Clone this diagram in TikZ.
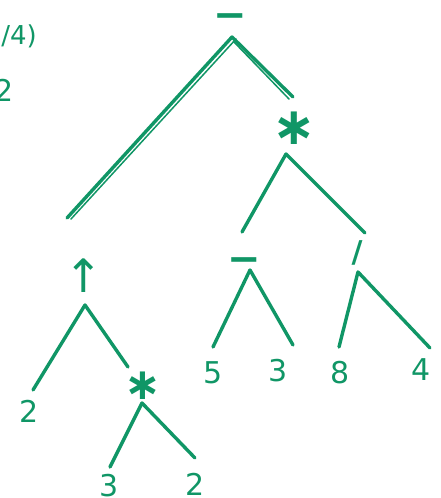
\documentclass[tikz,border=0pt]{standalone}
\usepackage{fontspec}
\setmainfont{DejaVu Sans}
\definecolor{ink}{RGB}{16,150,102}
\begin{document}
\begin{tikzpicture}[x=1pt,y=-1pt,
  edge/.style={draw=ink, line width=3.4pt, line cap=round, line join=round},
  thinedge/.style={draw=ink, line width=1.5pt, line cap=round},
  lab/.style={text=ink, inner sep=0pt, font=\fontsize{30}{30}\selectfont},
  oper/.style={text=ink, inner sep=0pt, font=\fontsize{40}{40}\selectfont\bfseries}]
\useasboundingbox (0,0) rectangle (440,498);
\clip (0,0) rectangle (440,498);
% top-left fragments
\node[lab, anchor=east, font=\fontsize{26}{30}\selectfont] (frac) at (37,36) {3/4)};
\node[lab, anchor=east] (two0) at (14,90) {2};
% operators
\node[oper] (root) at (230,21) {−};
\node[oper, font=\fontsize{52}{52}\selectfont\bfseries] (st1) at (294,128) {∗};
\node[oper] (mn2) at (244,265) {−};
\node[lab, font=\fontsize{30}{30}\selectfont\bfseries] (sl) at (357,253) {/};
\node[oper, font=\fontsize{46}{46}\selectfont] (up) at (84,276) {↑};
\node[oper, font=\fontsize{44}{44}\selectfont\bfseries] (st2) at (143,386) {∗};
% leaves
\node[lab] (l2a) at (29,411) {2};
\node[lab] (l3a) at (109,486) {3};
\node[lab] (l2b) at (195,484) {2};
\node[lab] (l5) at (213,373) {5};
\node[lab] (l3b) at (278,371) {3};
\node[lab] (l8) at (340,373) {8};
\node[lab] (l4) at (421,370) {4};
% branch points
\coordinate (ra) at (232,37);  \coordinate (rl) at (67,218);  \coordinate (rr) at (293,97);
\coordinate (sa) at (286,154); \coordinate (sl1) at (242,232); \coordinate (sr1) at (365,233);
\coordinate (ma) at (250,270); \coordinate (ml) at (213,347); \coordinate (mr) at (293,345);
\coordinate (da) at (358,272); \coordinate (dl) at (339,347); \coordinate (dr) at (430,348);
\coordinate (ua) at (85,305);  \coordinate (ul) at (33,390);  \coordinate (ur) at (128,367);
\coordinate (ta) at (142,403); \coordinate (tl) at (110,467); \coordinate (tr) at (195,458);
% connectors
\draw[edge] (rl) -- (ra) -- (rr);
\draw[thinedge] ([xshift=4pt,yshift=-1pt]rl) -- ([xshift=4pt,yshift=-2pt]ra);
\draw[thinedge] ([xshift=2pt,yshift=-5pt]ra) -- ([xshift=-4pt,yshift=-2pt]rr);
\draw[edge] (sl1) -- (sa) -- (sr1);
\draw[edge] (ml) -- (ma) -- (mr);
\draw[edge] (dl) -- (da) -- (dr);
\draw[edge] (ul) -- (ua) -- (ur);
\draw[edge] (tl) -- (ta) -- (tr);
\end{tikzpicture}
\end{document}
